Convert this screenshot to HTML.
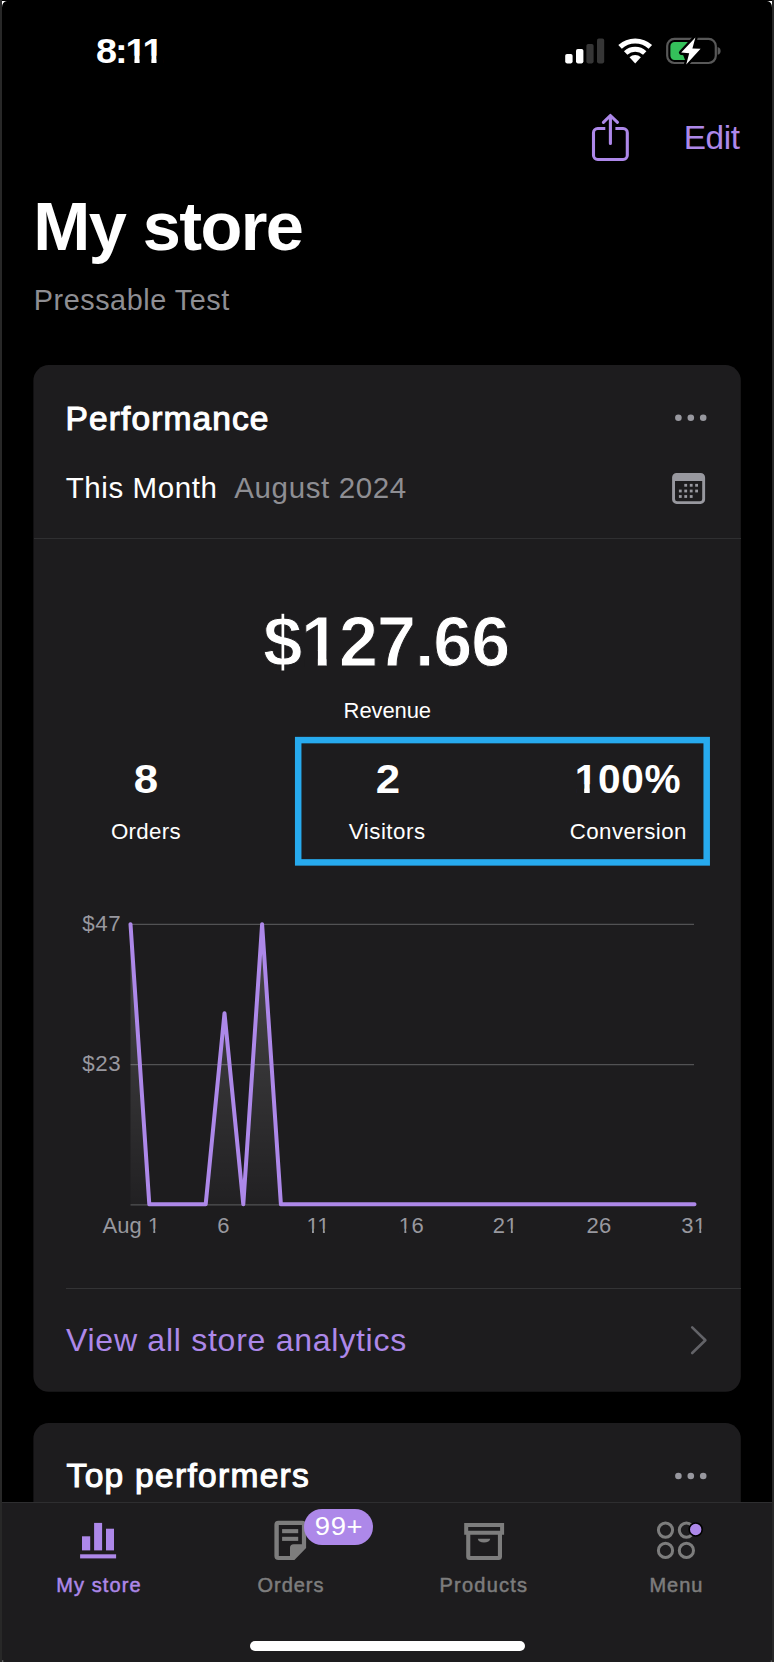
<!DOCTYPE html>
<html lang="en"><head><meta charset="utf-8"><title>My store</title>
<style>
html,body{margin:0;padding:0;background:#000;}
body{width:774px;height:1662px;position:relative;overflow:hidden;font-family:"Liberation Sans",sans-serif;}
.a{position:absolute;display:block}
.t{position:absolute;white-space:nowrap;line-height:1;margin:0;padding:0}
</style></head><body>
<header class="statusbar">
<div class="t" style="left:96.4px;transform:scaleX(1.09);transform-origin:0 50%;top:34.13px;font-size:34.7px;color:#fff;font-weight:700;letter-spacing:-1.85px;clip-path:polygon(-10.00px -10.00px,70.13px -10.00px,70.13px 48.58px,62.02px 48.58px,62.02px 21.51px,55.54px 21.51px,55.54px 48.58px,50.78px 48.58px,50.78px 21.51px,40.01px 21.51px,40.01px 48.58px,35.25px 48.58px,35.25px 21.51px,28.34px 21.51px,28.34px 48.58px,-10.00px 48.58px);">8:11</div>
<svg class="a" style="left:560px;top:30px" width="170" height="40" viewBox="560 30 170 40">
<rect x="565.2" y="54" width="7.4" height="9.4" rx="1.8" fill="#fff"/>
<rect x="576" y="49" width="7.4" height="14.4" rx="1.8" fill="#fff"/>
<rect x="586.4" y="44" width="7.2" height="19.4" rx="1.8" fill="#363636"/>
<rect x="597" y="38.6" width="7.2" height="24.8" rx="1.8" fill="#363636"/>
<path d="M620.07 46.88 A22.4 22.4 0 0 1 650.33 46.88" fill="none" stroke="#fff" stroke-width="5.2"/>
<path d="M625.67 53.00 A14.1 14.1 0 0 1 644.73 53.00" fill="none" stroke="#fff" stroke-width="5"/>
<path d="M635.2 63.4 L629.53 57.21 A8.4 8.4 0 0 1 640.87 57.21 Z" fill="#fff"/>
<rect x="667.2" y="38.8" width="48.6" height="24.2" rx="7.2" fill="none" stroke="#585858" stroke-width="2.2"/>
<path d="M717.6 47 C720 47.6 720.6 49.4 720.6 50.9 C720.6 52.4 720 54.2 717.6 54.8 Z" fill="#585858"/>
<path d="M674.6 42 H691 L682 52 L685 60 H674.6 A4.2 4.2 0 0 1 670.4 55.8 V46.2 A4.2 4.2 0 0 1 674.6 42 Z" fill="#34C05A"/>
<path d="M695.4 37.4 L681.2 52.6 L689.2 53.2 L686.2 64.4 L700.6 48.8 L692.4 48.4 Z" fill="#fff" stroke="#000" stroke-width="4.6" stroke-linejoin="round" paint-order="stroke"/>
</svg>
</header>
<header class="navbar">
<svg class="a" style="left:585px;top:108px" width="52" height="60" viewBox="585 108 52 60" fill="none" stroke="#AD88E9" stroke-width="3.1" stroke-linecap="round" stroke-linejoin="round">
<path stroke-linecap="butt" d="M605.3 128.5 H597.7 A4.2 4.2 0 0 0 593.5 132.7 V155.3 A4.2 4.2 0 0 0 597.7 159.5 H623.1 A4.2 4.2 0 0 0 627.3 155.3 V132.7 A4.2 4.2 0 0 0 623.1 128.5 H615.4"/>
<path d="M610.4 143.4 V116 M603.4 122.3 L610.4 115.5 L617.5 122.3"/>
</svg>
<div class="t" style="right:34.40px;top:120.73px;font-size:33.4px;color:#AD88E9;font-weight:400;letter-spacing:-0.4px;">Edit</div>
<h1 class="t" style="left:33.3px;top:193.01px;font-size:68.5px;color:#fff;font-weight:700;letter-spacing:-1.6px;">My store</h1>
<div class="t" style="left:33.8px;top:285.72px;font-size:28.8px;color:#8E8E93;font-weight:400;letter-spacing:0.54px;">Pressable Test</div>
</header>
<main>
<section class="card performance">
<svg class="a" style="left:30px;top:360px" width="720" height="1040" viewBox="30 360 720 1040"><rect x="33.4" y="365.1" width="707.4" height="1026.6" rx="15.5" fill="#1D1C1E"/></svg>
<h2 class="t" style="left:65.6px;top:402.14px;font-size:33.5px;color:#fff;font-weight:400;letter-spacing:1.1px;-webkit-text-stroke:1.1px #fff;">Performance</h2>
<svg class="a" style="left:670px;top:410px" width="40" height="16" viewBox="670 410 40 16" fill="#98989F">
<circle cx="678.4" cy="417.8" r="3.3"/><circle cx="690.8" cy="417.8" r="3.3"/><circle cx="703.2" cy="417.8" r="3.3"/></svg>
<div class="t" style="left:65.7px;top:473.43px;font-size:29.5px;color:#fff;font-weight:400;letter-spacing:0.6px;">This Month</div>
<div class="t" style="left:234.3px;top:473.43px;font-size:29.5px;color:#8E8E93;font-weight:400;letter-spacing:0.62px;">August 2024</div>
<svg class="a" style="left:668px;top:468px" width="42" height="40" viewBox="668 468 42 40" fill="#98989F">
<path fill-rule="evenodd" d="M676.6 472.9 H700.6 A4.5 4.5 0 0 1 705.1 477.4 V499.4 A4.5 4.5 0 0 1 700.6 503.9 H676.6 A4.5 4.5 0 0 1 672.1 499.4 V477.4 A4.5 4.5 0 0 1 676.6 472.9 Z M675 481 V499 A2.2 2.2 0 0 0 677.2 501.2 H700 A2.2 2.2 0 0 0 702.2 499 V481 Z"/>
<rect x="684.3" y="483.9" width="2.8" height="2.8"/><rect x="689.8" y="483.9" width="2.8" height="2.8"/><rect x="695.2" y="483.9" width="2.8" height="2.8"/><rect x="678.9" y="489.6" width="2.8" height="2.8"/><rect x="684.3" y="489.6" width="2.8" height="2.8"/><rect x="689.8" y="489.6" width="2.8" height="2.8"/><rect x="695.2" y="489.6" width="2.8" height="2.8"/><rect x="678.9" y="495.1" width="2.8" height="2.8"/><rect x="684.3" y="495.1" width="2.8" height="2.8"/><rect x="689.8" y="495.1" width="2.8" height="2.8"/></svg>
<div class="a" style="left:33.5px;top:538px;width:707.3px;height:1.3px;background:#2F2F31"></div>
<div class="t" style="left:386.2px;transform:translateX(-50%);top:606.95px;font-size:70px;color:#fff;font-weight:700;letter-spacing:-1.0px;-webkit-text-stroke:1.0px #1D1C1E;clip-path:polygon(-10.00px -10.00px,256.03px -10.00px,256.03px 98.00px,75.91px 98.00px,75.91px 43.40px,63.47px 43.40px,63.47px 98.00px,54.67px 98.00px,54.67px 43.40px,41.34px 43.40px,41.34px 98.00px,-10.00px 98.00px);">$127.66</div>
<div class="t" style="left:387.3px;transform:translateX(-50%);top:699.78px;font-size:22px;color:#fff;font-weight:400;letter-spacing:-0.1px;">Revenue</div>
<div class="t" style="left:146px;transform:translateX(-50%) scaleX(1.08);top:759.13px;font-size:40.6px;color:#fff;font-weight:700;">8</div>
<div class="t" style="left:388px;transform:translateX(-50%) scaleX(1.08);top:759.13px;font-size:40.6px;color:#fff;font-weight:700;">2</div>
<div class="t" style="left:628.0px;transform:translateX(-50%);top:759.13px;font-size:40.6px;color:#fff;font-weight:700;letter-spacing:0.7px;clip-path:polygon(-10.00px -10.00px,116.64px -10.00px,116.64px 56.84px,22.45px 56.84px,22.45px 25.17px,15.05px 25.17px,15.05px 56.84px,9.48px 56.84px,9.48px 25.17px,1.56px 25.17px,1.56px 56.84px,-10.00px 56.84px);">100%</div>
<div class="t" style="left:145.9px;transform:translateX(-50%);top:821.02px;font-size:22.3px;color:#fff;font-weight:400;letter-spacing:0.3px;">Orders</div>
<div class="t" style="left:387.2px;transform:translateX(-50%);top:821.02px;font-size:22.3px;color:#fff;font-weight:400;letter-spacing:0.5px;">Visitors</div>
<div class="t" style="left:628.3px;transform:translateX(-50%);top:821.02px;font-size:22.3px;color:#fff;font-weight:400;letter-spacing:0.43px;">Conversion</div>
<svg class="a" style="left:290px;top:732px" width="426" height="140" viewBox="290 732 426 140"><rect x="298.2" y="740.1" width="408.5" height="122.3" fill="none" stroke="#27AAEE" stroke-width="6.5"/></svg>
<svg class="a" style="left:60px;top:900px" width="680" height="320" viewBox="60 900 680 320">
<defs><linearGradient id="g" x1="0" y1="0" x2="0" y2="1"><stop offset="0" stop-color="#fff" stop-opacity="0.2"/><stop offset="1" stop-color="#fff" stop-opacity="0.02"/></linearGradient></defs>
<g stroke="#525254" stroke-width="1.2"><path d="M130.5 924.3 H694 M130.5 1064.6 H694 M130.5 1204.8 H694"/></g>
<path d="M130.5 924.2 L149.3 1204.3 L168.1 1204.3 L186.9 1204.3 L205.7 1204.3 L224.5 1013.2 L243.3 1204.3 L262.1 924.2 L280.9 1204.3 L299.7 1204.3 L318.5 1204.3 L337.3 1204.3 L356.1 1204.3 L374.9 1204.3 L393.7 1204.3 L412.5 1204.3 L431.3 1204.3 L450.1 1204.3 L468.9 1204.3 L487.7 1204.3 L506.5 1204.3 L525.3 1204.3 L544.1 1204.3 L562.9 1204.3 L581.7 1204.3 L600.5 1204.3 L619.3 1204.3 L638.1 1204.3 L656.9 1204.3 L675.7 1204.3 L694.5 1204.3 L694.5 1204.3 L130.5 1204.3 Z" fill="url(#g)"/>
<path d="M130.5 924.2 L149.3 1204.3 L168.1 1204.3 L186.9 1204.3 L205.7 1204.3 L224.5 1013.2 L243.3 1204.3 L262.1 924.2 L280.9 1204.3 L299.7 1204.3 L318.5 1204.3 L337.3 1204.3 L356.1 1204.3 L374.9 1204.3 L393.7 1204.3 L412.5 1204.3 L431.3 1204.3 L450.1 1204.3 L468.9 1204.3 L487.7 1204.3 L506.5 1204.3 L525.3 1204.3 L544.1 1204.3 L562.9 1204.3 L581.7 1204.3 L600.5 1204.3 L619.3 1204.3 L638.1 1204.3 L656.9 1204.3 L675.7 1204.3 L694.5 1204.3" fill="none" stroke="#AD88E9" stroke-width="4" stroke-linejoin="round" stroke-linecap="round"/>
</svg>
<div class="t" style="right:652.80px;top:913.02px;font-size:22.3px;color:#98989F;font-weight:400;letter-spacing:0.6px;">$47</div>
<div class="t" style="right:652.80px;top:1053.32px;font-size:22.3px;color:#98989F;font-weight:400;letter-spacing:0.6px;">$23</div>
<div class="t" style="left:131.3px;transform:translateX(-50%);top:1215.18px;font-size:22px;color:#98989F;font-weight:400;clip-path:polygon(-10.00px -10.00px,67.49px -10.00px,67.49px 30.80px,57.42px 30.80px,57.42px 13.64px,52.73px 13.64px,52.73px 30.80px,50.79px 30.80px,50.79px 13.64px,45.93px 13.64px,45.93px 30.80px,-10.00px 30.80px);">Aug 1</div>
<div class="t" style="left:223.6px;transform:translateX(-50%);top:1215.18px;font-size:22px;color:#98989F;font-weight:400;letter-spacing:0.3px;">6</div>
<div class="t" style="left:318.2px;transform:translateX(-50%);top:1215.18px;font-size:22px;color:#98989F;font-weight:400;letter-spacing:0.3px;clip-path:polygon(-10.00px -10.00px,33.44px -10.00px,33.44px 30.80px,23.06px 30.80px,23.06px 13.64px,18.38px 13.64px,18.38px 30.80px,16.43px 30.80px,16.43px 13.64px,7.48px 13.64px,7.48px 30.80px,5.53px 30.80px,5.53px 13.64px,0.68px 13.64px,0.68px 30.80px,-10.00px 30.80px);">11</div>
<div class="t" style="left:411.4px;transform:translateX(-50%);top:1215.18px;font-size:22px;color:#98989F;font-weight:400;letter-spacing:0.3px;clip-path:polygon(-10.00px -10.00px,35.07px -10.00px,35.07px 30.80px,12.16px 30.80px,12.16px 13.64px,7.48px 13.64px,7.48px 30.80px,5.53px 30.80px,5.53px 13.64px,0.68px 13.64px,0.68px 30.80px,-10.00px 30.80px);">16</div>
<div class="t" style="left:505.3px;transform:translateX(-50%);top:1215.18px;font-size:22px;color:#98989F;font-weight:400;letter-spacing:0.3px;clip-path:polygon(-10.00px -10.00px,35.07px -10.00px,35.07px 30.80px,24.70px 30.80px,24.70px 13.64px,20.01px 13.64px,20.01px 30.80px,18.07px 30.80px,18.07px 13.64px,13.21px 13.64px,13.21px 30.80px,-10.00px 30.80px);">21</div>
<div class="t" style="left:599px;transform:translateX(-50%);top:1215.18px;font-size:22px;color:#98989F;font-weight:400;letter-spacing:0.3px;">26</div>
<div class="t" style="left:693.8px;transform:translateX(-50%);top:1215.18px;font-size:22px;color:#98989F;font-weight:400;letter-spacing:0.3px;clip-path:polygon(-10.00px -10.00px,35.07px -10.00px,35.07px 30.80px,24.70px 30.80px,24.70px 13.64px,20.01px 13.64px,20.01px 30.80px,18.07px 30.80px,18.07px 13.64px,13.21px 13.64px,13.21px 30.80px,-10.00px 30.80px);">31</div>
<div class="a" style="left:65.5px;top:1287.8px;width:675px;height:1.3px;background:#333335"></div>
<div class="t" style="left:66px;top:1324.21px;font-size:32px;color:#AD88E9;font-weight:400;letter-spacing:0.74px;">View all store analytics</div>
<svg class="a" style="left:684px;top:1320px" width="30" height="40" viewBox="684 1320 30 40" fill="none" stroke="#636368" stroke-width="2.6" stroke-linecap="round" stroke-linejoin="round"><path d="M692.2 1327.4 L705.4 1340.2 L692.2 1353"/></svg>
</section>
<section class="card top-performers">
<svg class="a" style="left:30px;top:1420px" width="720" height="100" viewBox="30 1420 720 100"><rect x="33.4" y="1423.1" width="707.4" height="120" rx="15.5" fill="#1D1C1E"/></svg>
<h2 class="t" style="left:66.6px;top:1459.04px;font-size:33.5px;color:#fff;font-weight:400;letter-spacing:1.3px;-webkit-text-stroke:1.1px #fff;">Top performers</h2>
<svg class="a" style="left:670px;top:1468px" width="40" height="16" viewBox="670 1468 40 16" fill="#98989F">
<circle cx="678.4" cy="1476" r="3.3"/><circle cx="690.8" cy="1476" r="3.3"/><circle cx="703.2" cy="1476" r="3.3"/></svg>
</section>
</main>
<nav class="tabbar">
<div class="a" style="left:0;top:1502px;width:774px;height:160px;background:#1D1C1E;border-top:1.3px solid #2E2E30;box-sizing:border-box"></div>
<svg class="a" style="left:76px;top:1518px" width="46" height="46" viewBox="76 1518 46 46" fill="#AD88E9">
<rect x="82" y="1536.3" width="8.2" height="14.1"/><rect x="94.1" y="1522.9" width="8" height="27.5"/><rect x="106" y="1528.7" width="8" height="21.7"/><rect x="80.1" y="1554.3" width="36" height="4.1"/></svg>
<div class="t" style="left:98.9px;transform:translateX(-50%);top:1574.67px;font-size:20px;color:#AD88E9;font-weight:400;letter-spacing:1.1px;-webkit-text-stroke:0.5px #AD88E9;">My store</div>
<svg class="a" style="left:270px;top:1516px" width="44" height="50" viewBox="270 1516 44 50">
<path fill-rule="evenodd" fill="#7D7D7D" d="M278.4 1520.8 H302.1 A4 4 0 0 1 306.1 1524.8 V1548 L294.4 1560.1 H278.4 A4 4 0 0 1 274.4 1556.1 V1524.8 A4 4 0 0 1 278.4 1520.8 Z M278.8 1525.1 V1555.9 H290 V1547.8 A3.6 3.6 0 0 1 293.6 1544.2 H301.9 V1525.1 Z"/>
<rect x="282.1" y="1529.1" width="16.1" height="4.1" fill="#7D7D7D"/><rect x="282.1" y="1536.8" width="16.1" height="4.1" fill="#7D7D7D"/></svg>
<div class="a" style="left:304.4px;top:1509px;width:68.2px;height:35.6px;border-radius:18px;background:#AD88E9"></div>
<div class="t" style="left:338.6px;transform:translateX(-50%) scaleX(1.04);top:1512.95px;font-size:26.4px;color:#fff;font-weight:400;letter-spacing:0.6px;">99+</div>
<div class="t" style="left:291px;transform:translateX(-50%);top:1574.67px;font-size:20px;color:#7D7D7D;font-weight:400;letter-spacing:0.95px;-webkit-text-stroke:0.5px #7D7D7D;">Orders</div>
<svg class="a" style="left:460px;top:1518px" width="48" height="46" viewBox="460 1518 48 46" fill="#7D7D7D">
<path fill-rule="evenodd" d="M464.2 1522.9 H504.1 V1534.7 H502 V1556.6 A3.5 3.5 0 0 1 498.5 1560.1 H469.7 A3.5 3.5 0 0 1 466.2 1556.6 V1534.7 H464.2 Z M468.2 1526.9 V1530.7 H500.1 V1526.9 Z M470.3 1534.7 V1556 H497.9 V1534.7 Z"/>
<path d="M477.8 1538.8 H490.2 A6.2 3.8 0 0 1 477.8 1538.8 Z"/></svg>
<div class="t" style="left:483.9px;transform:translateX(-50%);top:1574.67px;font-size:20px;color:#7D7D7D;font-weight:400;letter-spacing:1.25px;-webkit-text-stroke:0.5px #7D7D7D;">Products</div>
<svg class="a" style="left:652px;top:1516px" width="56" height="48" viewBox="652 1516 56 48" fill="none" stroke="#7D7D7D" stroke-width="3">
<circle cx="665.5" cy="1530.1" r="7.1"/><circle cx="686.4" cy="1530.1" r="7.1"/><circle cx="665.5" cy="1550.4" r="7.1"/><circle cx="686.4" cy="1550.4" r="7.1"/>
<circle cx="695.7" cy="1529.5" r="6.5" fill="#AD88E9" stroke="#000" stroke-width="1.6"/></svg>
<div class="t" style="left:676.4px;transform:translateX(-50%);top:1574.67px;font-size:20px;color:#7D7D7D;font-weight:400;letter-spacing:0.95px;-webkit-text-stroke:0.5px #7D7D7D;">Menu</div>
<div class="a" style="left:250px;top:1641px;width:275px;height:10.4px;border-radius:5.2px;background:#fff"></div>
</nav>
<div class="a" style="left:0;top:0;width:2px;height:1662px;background:#282828"></div>
<div class="a" style="left:772px;top:0;width:2px;height:1662px;background:#282828"></div>
<svg class="a" style="left:0;top:1656px" width="774" height="6" viewBox="0 1656 774 6"><rect x="2" y="1660.2" width="1.3" height="1.8" fill="#6a6a6a"/><rect x="770.7" y="1660.4" width="1.3" height="1.6" fill="#555"/></svg>
<svg class="a" style="left:0;top:0" width="774" height="10" viewBox="0 0 774 10"><path d="M2 1 H7 A5 6 0 0 0 2 7.5 Z" fill="#fff"/><path d="M772 1 H767 A5 6 0 0 1 772 7.5 Z" fill="#fff"/></svg>
</body></html>
